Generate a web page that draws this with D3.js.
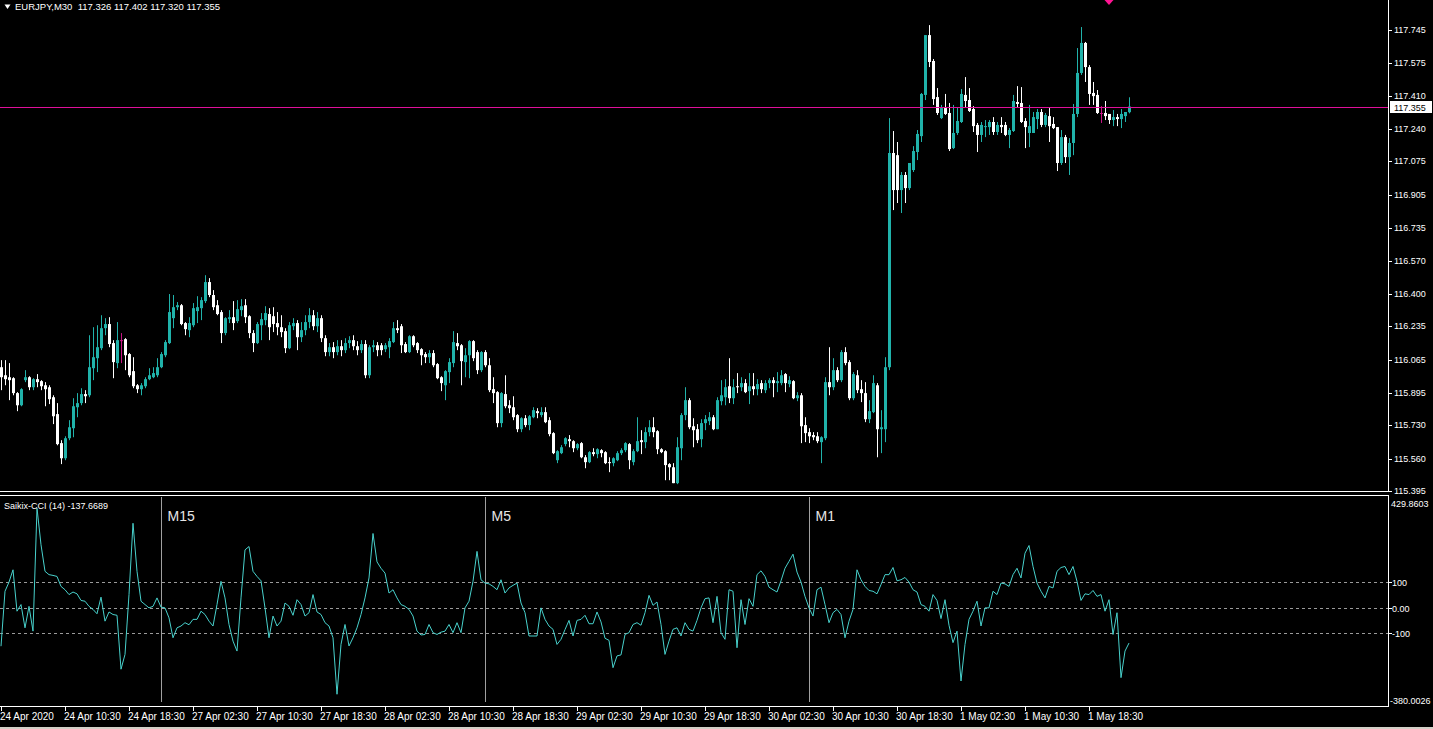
<!DOCTYPE html>
<html><head><meta charset="utf-8">
<script src="https://cdn.jsdelivr.net/npm/d3@7"></script>
<style>html,body{margin:0;padding:0;background:#000;overflow:hidden}svg{display:block}</style>
</head><body>
<svg id="c" width="1433" height="729"></svg>
<script>
// ---------- data ----------
const symbolTitle = "EURJPY,M30";
const lastBarText = "117.326 117.402 117.320 117.355";
const indicatorName = "Saikix-CCI (14) -137.6689";

const opens = [
116.026,115.985,115.975,115.970,115.894,115.832,115.960,115.975,115.924,115.965,
115.955,115.934,115.924,115.873,115.787,115.639,115.562,115.664,115.715,115.822,
115.843,115.889,115.883,116.021,116.072,116.123,116.225,116.246,116.149,116.047,
116.164,116.169,116.093,116.006,115.934,115.914,115.929,115.965,115.975,115.985,
116.026,116.087,116.149,116.276,116.332,116.342,116.251,116.215,116.240,116.312,
116.327,116.363,116.460,116.394,116.342,116.307,116.200,116.271,116.281,116.261,
116.317,116.342,116.286,116.200,116.149,116.240,116.266,116.297,116.286,116.251,
116.230,116.210,116.123,116.235,116.251,116.179,116.215,116.256,116.291,116.235,
116.276,116.174,116.103,116.128,116.103,116.133,116.113,116.149,116.164,116.133,
116.113,116.144,115.985,116.128,116.138,116.138,116.118,116.128,116.154,116.225,
116.235,116.144,116.103,116.184,116.149,116.118,116.093,116.077,116.098,116.042,
115.975,115.934,116.001,116.047,116.149,116.138,116.052,116.087,116.159,116.103,
116.011,116.103,116.036,115.914,115.899,115.741,115.889,115.832,115.822,115.782,
115.710,115.766,115.731,115.771,115.802,115.782,115.797,115.756,115.690,115.552,
115.588,115.634,115.659,115.649,115.613,115.639,115.567,115.542,115.593,115.583,
115.603,115.593,115.542,115.537,115.552,115.588,115.603,115.634,115.542,115.598,
115.654,115.644,115.695,115.720,115.700,115.608,115.598,115.532,115.516,115.435,
115.613,115.782,115.858,115.725,115.710,115.659,115.741,115.751,115.771,115.710,
115.853,115.873,115.929,115.868,115.929,115.924,115.945,115.904,115.929,115.914,
115.945,115.909,115.945,115.960,115.945,115.945,115.991,115.940,115.955,115.868,
115.883,115.731,115.695,115.680,115.674,115.644,115.664,115.950,115.924,116.011,
115.960,116.103,116.052,115.868,115.985,115.914,115.894,115.761,115.797,115.934,
115.710,115.710,116.026,117.118,117.107,116.929,117.006,116.939,117.031,117.123,
117.204,117.414,117.719,117.587,117.403,117.296,117.347,117.322,117.143,117.220,
117.276,117.414,117.388,117.342,117.261,117.210,117.250,117.250,117.276,117.225,
117.261,117.261,117.210,117.230,117.378,117.373,117.281,117.220,117.220,117.291,
117.327,117.261,117.306,117.266,117.250,117.067,117.199,117.097,117.169,117.317,
117.526,117.679,117.556,117.424,117.414,117.322,117.322,117.317,117.286,117.301,
117.291,117.306,117.326];

const highs = [
116.062,116.062,116.047,115.975,115.899,115.919,116.011,115.980,115.970,115.991,
115.960,115.950,115.934,115.883,115.843,115.654,115.674,115.756,115.868,115.894,
115.919,115.909,116.189,116.230,116.240,116.291,116.276,116.281,116.164,116.256,
116.200,116.174,116.098,116.077,115.940,115.945,115.975,116.021,116.026,116.072,
116.103,116.164,116.399,116.394,116.358,116.348,116.256,116.281,116.353,116.388,
116.383,116.495,116.480,116.419,116.368,116.317,116.281,116.317,116.363,116.368,
116.373,116.373,116.291,116.215,116.256,116.302,116.337,116.327,116.332,116.307,
116.291,116.225,116.256,116.276,116.266,116.256,116.291,116.327,116.317,116.307,
116.291,116.189,116.149,116.154,116.164,116.164,116.174,116.184,116.189,116.159,
116.164,116.164,116.138,116.164,116.154,116.149,116.149,116.174,116.256,116.266,
116.246,116.154,116.189,116.189,116.154,116.123,116.103,116.113,116.113,116.047,
115.980,116.011,116.072,116.210,116.200,116.144,116.123,116.164,116.164,116.113,
116.108,116.113,116.072,115.975,115.904,115.899,115.985,115.858,115.878,115.787,
115.771,115.782,115.782,115.822,115.817,115.822,115.822,115.771,115.695,115.603,
115.629,115.669,115.680,115.654,115.639,115.644,115.578,115.598,115.613,115.613,
115.608,115.598,115.567,115.567,115.598,115.613,115.644,115.639,115.608,115.771,
115.705,115.720,115.756,115.771,115.705,115.613,115.603,115.537,115.537,115.669,
115.792,115.924,115.868,115.766,115.736,115.761,115.782,115.797,115.782,115.873,
115.960,115.965,116.072,115.965,115.996,115.975,115.965,115.996,115.996,115.965,
115.960,115.960,115.970,115.975,116.001,116.011,115.996,115.980,115.960,115.899,
115.894,115.771,115.715,115.695,115.695,115.674,115.975,116.128,116.072,116.026,
116.113,116.128,116.062,116.001,116.011,115.960,115.950,115.858,115.985,115.945,
115.807,116.077,117.296,117.230,117.174,117.021,117.021,117.067,117.153,117.235,
117.424,117.719,117.770,117.597,117.449,117.363,117.419,117.373,117.363,117.352,
117.444,117.505,117.449,117.357,117.271,117.276,117.286,117.286,117.301,117.276,
117.301,117.276,117.245,117.414,117.459,117.454,117.296,117.363,117.327,117.342,
117.342,117.322,117.347,117.301,117.250,117.235,117.210,117.194,117.368,117.653,
117.760,117.684,117.566,117.480,117.439,117.357,117.383,117.317,117.337,117.317,
117.342,117.327,117.402];

const lows = [
115.909,115.934,115.858,115.883,115.802,115.827,115.950,115.909,115.909,115.924,
115.909,115.827,115.838,115.736,115.628,115.532,115.552,115.654,115.669,115.771,
115.832,115.843,115.873,115.960,116.001,116.113,116.189,116.128,115.970,116.021,
116.047,116.011,115.975,115.919,115.894,115.883,115.919,115.960,115.970,115.975,
116.021,116.077,116.144,116.225,116.317,116.240,116.189,116.179,116.230,116.251,
116.266,116.353,116.383,116.317,116.291,116.149,116.189,116.251,116.215,116.251,
116.286,116.251,116.174,116.103,116.144,116.164,116.240,116.164,116.205,116.189,
116.179,116.098,116.118,116.215,116.113,116.154,116.189,116.225,116.215,116.205,
116.154,116.082,116.082,116.072,116.087,116.082,116.098,116.123,116.113,116.087,
116.098,115.970,115.970,116.103,116.082,116.087,116.103,116.072,116.149,116.200,
116.098,116.098,116.098,116.128,116.098,116.036,116.047,116.047,116.026,115.965,
115.904,115.858,115.945,116.026,116.113,115.934,115.975,115.970,116.057,115.991,
116.001,116.026,115.899,115.843,115.720,115.720,115.817,115.792,115.756,115.695,
115.695,115.720,115.705,115.766,115.766,115.771,115.741,115.674,115.583,115.537,
115.583,115.623,115.618,115.593,115.603,115.562,115.511,115.537,115.572,115.562,
115.567,115.532,115.491,115.521,115.547,115.578,115.593,115.506,115.526,115.593,
115.583,115.613,115.674,115.669,115.583,115.588,115.450,115.450,115.435,115.430,
115.552,115.756,115.710,115.618,115.639,115.618,115.705,115.731,115.705,115.710,
115.832,115.832,115.843,115.838,115.894,115.904,115.894,115.838,115.883,115.883,
115.894,115.894,115.919,115.873,115.899,115.934,115.899,115.924,115.863,115.853,
115.639,115.644,115.639,115.654,115.639,115.537,115.654,115.883,115.909,115.950,
115.950,116.036,115.858,115.858,115.894,115.848,115.746,115.741,115.792,115.567,
115.588,115.644,116.011,116.827,116.863,116.812,116.863,116.929,117.021,117.082,
117.174,117.388,117.556,117.363,117.312,117.291,117.312,117.128,117.138,117.210,
117.271,117.352,117.327,117.225,117.123,117.174,117.199,117.210,117.210,117.210,
117.220,117.204,117.143,117.225,117.352,117.271,117.143,117.148,117.220,117.240,
117.250,117.250,117.174,117.240,117.026,117.057,117.067,117.006,117.107,117.301,
117.516,117.480,117.363,117.363,117.317,117.271,117.286,117.266,117.255,117.255,
117.245,117.276,117.320];

const closes = [
115.975,115.965,115.960,115.894,115.832,115.914,115.975,115.924,115.965,115.950,
115.929,115.914,115.863,115.776,115.634,115.562,115.664,115.720,115.827,115.843,
115.889,115.878,116.026,116.077,116.128,116.225,116.246,116.144,116.052,116.164,
116.164,116.087,115.985,115.929,115.914,115.934,115.965,115.985,115.996,116.026,
116.093,116.154,116.307,116.332,116.342,116.246,116.220,116.251,116.327,116.332,
116.368,116.460,116.394,116.332,116.297,116.200,116.276,116.281,116.251,116.322,
116.337,116.281,116.200,116.149,116.246,116.271,116.302,116.230,116.246,116.230,
116.205,116.123,116.240,116.251,116.179,116.215,116.256,116.291,116.235,116.276,
116.174,116.103,116.128,116.103,116.133,116.113,116.149,116.164,116.133,116.113,
116.144,115.985,116.128,116.138,116.113,116.113,116.138,116.159,116.225,116.215,
116.138,116.103,116.184,116.138,116.113,116.087,116.077,116.098,116.036,115.970,
115.945,116.006,116.052,116.154,116.133,116.057,116.087,116.159,116.072,116.011,
116.103,116.036,115.909,115.894,115.741,115.894,115.827,115.817,115.771,115.710,
115.766,115.731,115.776,115.807,115.792,115.797,115.746,115.685,115.588,115.598,
115.618,115.664,115.649,115.613,115.634,115.567,115.542,115.593,115.583,115.608,
115.588,115.537,115.537,115.562,115.588,115.603,115.639,115.552,115.598,115.649,
115.644,115.695,115.720,115.695,115.608,115.593,115.527,115.516,115.435,115.618,
115.782,115.858,115.720,115.705,115.654,115.741,115.761,115.771,115.710,115.858,
115.883,115.924,115.868,115.924,115.924,115.945,115.899,115.929,115.914,115.940,
115.914,115.945,115.960,115.945,115.955,115.985,115.945,115.960,115.868,115.883,
115.725,115.690,115.674,115.669,115.649,115.669,115.950,115.924,116.011,115.960,
116.103,116.047,115.868,115.991,115.909,115.894,115.761,115.802,115.945,115.710,
115.720,116.026,117.118,116.929,116.929,117.006,116.939,117.067,117.128,117.215,
117.419,117.719,117.582,117.393,117.322,117.347,117.317,117.138,117.220,117.281,
117.419,117.383,117.332,117.255,117.210,117.261,117.255,117.276,117.225,117.261,
117.250,117.210,117.235,117.383,117.368,117.276,117.250,117.255,117.301,117.327,
117.261,117.312,117.255,117.245,117.067,117.199,117.097,117.169,117.317,117.526,
117.679,117.556,117.419,117.408,117.322,117.322,117.306,117.286,117.301,117.291,
117.317,117.327,117.355];

const cciValues = [
-150,65,101,149,-13,13,-78,6,-91,390,
247,143,130,127,123,84,71,52,62,55,
29,26,6,-6,-23,42,-52,-16,-26,-29,
-240,-182,52,331,143,26,13,0,6,39,
3,0,-39,-117,-78,-71,-58,-66,-45,-45,
-13,-26,-52,-71,13,104,39,-65,-130,-169,
39,227,240,143,123,106,0,-117,-32,-71,
-52,19,6,-29,32,13,-32,-19,52,-16,
-26,-58,-71,-117,-338,-143,-65,-149,-117,-78,
-26,39,117,291,180,155,136,58,71,39,
13,6,-6,-32,-91,-106,-104,-65,-97,-104,
-95,-91,-65,-97,-58,-97,0,26,104,221,
110,97,94,84,71,110,58,78,88,97,
19,-19,-110,-110,-110,0,-45,-71,-84,-143,
-123,-85,-49,-110,-49,-45,-29,-62,-62,-16,
-55,-119,-127,-234,-188,-184,-104,-97,-65,-58,
-68,-19,49,10,23,-65,-182,-130,-84,-78,
-110,-58,-84,-91,-49,0,36,39,-58,45,
-97,-123,71,65,-156,32,-65,36,6,130,
145,123,81,71,62,106,155,182,210,140,
101,45,0,-32,71,81,13,-58,-19,-6,
-26,-117,-52,-6,149,110,84,68,65,55,
91,130,130,158,106,110,119,101,71,62,
13,6,-13,52,29,-42,32,-68,-136,-91,
-286,-143,-45,-13,26,-71,0,0,65,52,
97,94,84,130,155,117,214,244,162,97,
65,39,84,78,143,158,162,130,162,104,
29,55,52,68,45,52,-13,32,-104,-19,
-273,-169,-137.6689];

const priceTicks = [117.745,117.575,117.410,117.240,117.075,116.905,116.735,116.570,116.400,116.235,116.065,115.895,115.730,115.560,115.395];
const priceMin = 115.395, priceMax = 117.745;
const currentPrice = 117.355;
const cciMax = 429.8603, cciMin = -380.0026;
const cciLevels = [100, 0, -100];
const cciLevelLabels = ["100", "0.00", "-100"];
const timeLabels = ["24 Apr 2020","24 Apr 10:30","24 Apr 18:30","27 Apr 02:30","27 Apr 10:30","27 Apr 18:30","28 Apr 02:30","28 Apr 10:30","28 Apr 18:30","29 Apr 02:30","29 Apr 10:30","29 Apr 18:30","30 Apr 02:30","30 Apr 10:30","30 Apr 18:30","1 May 02:30","1 May 10:30","1 May 18:30"];
const timeLabelStep = 16;
const frameNames = ["M15","M5","M1"];
const frameStartBars = [40,121,202];
const signalBar = 277, signalPrice = 117.898;

// ---------- drawing ----------
const W = 1433, H = 729;
const axisX = 1388;
const FONT = "'Liberation Sans', Arial, sans-serif";
const TEAL = "#20b2aa", BEAR = "#ffffff", DOJI = "#c71585";
const svg = d3.select("#c");
svg.append("rect").attr("width", W).attr("height", H).attr("fill", "#000");

const x = d3.scaleLinear().domain([0, closes.length - 1]).range([1, 1129]);
const y = d3.scaleLinear().domain([priceMin, priceMax]).range([491, 30]);
const yc = d3.scaleLinear().domain([cciMin, cciMax]).range([705, 498]);

// title
svg.append("path").attr("d", "M4.5,4.5 L10.5,4.5 L7.5,9 Z").attr("fill", "#fff");
svg.append("text").attr("x", 15).attr("y", 10).attr("fill", "#fff")
  .style("font", "9.5px " + FONT).style("white-space", "pre")
  .text(symbolTitle + "  " + lastBarText);

// candles
const bars = d3.range(closes.length).map(i => ({i, o: opens[i], h: highs[i], l: lows[i], c: closes[i]}));
const colorOf = d => d.c > d.o ? TEAL : (d.c < d.o ? BEAR : DOJI);
const cg = svg.append("g");
cg.selectAll("line.w").data(bars).join("line")
  .attr("x1", d => Math.round(x(d.i)) + 0.5).attr("x2", d => Math.round(x(d.i)) + 0.5)
  .attr("y1", d => y(d.h)).attr("y2", d => y(d.l))
  .attr("stroke", colorOf).attr("stroke-width", 1);
cg.selectAll("rect.b").data(bars).join("rect")
  .attr("x", d => Math.round(x(d.i)) - 1).attr("width", 3)
  .attr("y", d => Math.min(y(d.o), y(d.c)))
  .attr("height", d => Math.max(1, Math.abs(y(d.o) - y(d.c))))
  .attr("fill", colorOf);

// current price line
const yp = Math.round(y(currentPrice)) + 0.5;
svg.append("rect").attr("x", 0).attr("width", axisX).attr("y", yp - 0.5).attr("height", 1)
  .attr("fill", "#e0109a");

// signal marker
svg.append("path")
  .attr("transform", `translate(${Math.round(x(signalBar))},${y(signalPrice)})`)
  .attr("d", "M0,-5 L4.5,0 L0,5 L-4.5,0 Z").attr("fill", "#ff1493");

// price axis
svg.append("line").attr("x1", axisX + 0.5).attr("x2", axisX + 0.5).attr("y1", 0).attr("y2", 492)
  .attr("stroke", "#fff");
const pa = svg.append("g");
priceTicks.forEach(t => {
  const yy = Math.round(y(t)) + 0.5;
  pa.append("line").attr("x1", axisX).attr("x2", axisX + 4).attr("y1", yy).attr("y2", yy).attr("stroke", "#fff");
  pa.append("text").attr("x", 1394).attr("y", yy - 0.5).attr("dy", "0.35em").attr("fill", "#fff")
    .style("font", "9px " + FONT).text(t.toFixed(3));
});
svg.append("rect").attr("x", 1390).attr("y", yp - 6.5).attr("width", 42).attr("height", 12).attr("fill", "#fff");
svg.append("text").attr("x", 1394).attr("y", yp).attr("dy", "0.35em").attr("fill", "#000")
  .style("font", "9px " + FONT).text(currentPrice.toFixed(3));

// panel borders
svg.append("line").attr("x1", 0).attr("x2", axisX + 1).attr("y1", 491.5).attr("y2", 491.5).attr("stroke", "#fff");
svg.append("line").attr("x1", 0).attr("x2", axisX + 1).attr("y1", 495.5).attr("y2", 495.5).attr("stroke", "#fff");
svg.append("line").attr("x1", axisX + 0.5).attr("x2", axisX + 0.5).attr("y1", 495).attr("y2", 707).attr("stroke", "#fff");
svg.append("line").attr("x1", 0).attr("x2", axisX + 1).attr("y1", 706.5).attr("y2", 706.5).attr("stroke", "#fff");

// indicator levels
cciLevels.forEach((v, k) => {
  const yy = Math.round(yc(v)) + 0.5;
  svg.append("line").attr("x1", 0).attr("x2", axisX).attr("y1", yy).attr("y2", yy)
    .attr("stroke", "#9a9a9a").attr("stroke-dasharray", "3,3");
  svg.append("line").attr("x1", axisX).attr("x2", axisX + 4).attr("y1", yy).attr("y2", yy).attr("stroke", "#fff");
  svg.append("text").attr("x", 1392).attr("y", yy).attr("dy", "0.35em").attr("fill", "#fff")
    .style("font", "9px " + FONT).text(cciLevelLabels[k]);
});
svg.append("text").attr("x", 1391).attr("y", yc(cciMax) + 9).attr("fill", "#fff")
  .style("font", "9px " + FONT).text(cciMax.toFixed(4));
svg.append("text").attr("x", 1390).attr("y", yc(cciMin) - 1).attr("fill", "#fff")
  .style("font", "9px " + FONT).text(cciMin.toFixed(4));

// timeframe dividers
frameStartBars.forEach((b, k) => {
  const xx = Math.round(x(b)) + 0.5;
  svg.append("line").attr("x1", xx).attr("x2", xx).attr("y1", 497).attr("y2", 702)
    .attr("stroke", "#a0a0a0");
  svg.append("text").attr("x", xx + 6).attr("y", 521).attr("fill", "#e6e6e6")
    .style("font", "14px " + FONT).text(frameNames[k]);
});

// CCI line
svg.append("path").datum(cciValues)
  .attr("d", d3.line().x((d, i) => x(i)).y(d => yc(d)))
  .attr("fill", "none").attr("stroke", "#48d1cc").attr("stroke-width", 1);
svg.append("text").attr("x", 4).attr("y", 509).attr("fill", "#fff")
  .style("font", "9px " + FONT).text(indicatorName);

// time axis
timeLabels.forEach((t, k) => {
  const xx = Math.round(x(k * timeLabelStep)) + 0.5;
  svg.append("line").attr("x1", xx).attr("x2", xx).attr("y1", 707).attr("y2", 711).attr("stroke", "#fff");
  svg.append("text").attr("x", xx - 1.5).attr("y", 720).attr("fill", "#fff")
    .style("font", "10px " + FONT).text(t);
});
svg.append("rect").attr("x", 0).attr("y", 727).attr("width", W).attr("height", 2).attr("fill", "#d4d0c8");
</script>
</body></html>
